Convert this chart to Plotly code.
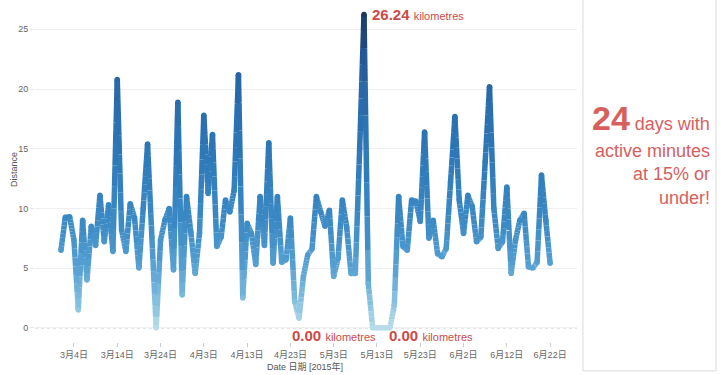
import plotly.graph_objects as go
import plotly.colors as pc
import pandas as pd

# ---------------- data ----------------
start_date = "2015-03-01"
distance_km = [
    # March
    6.5, 9.25, 9.3, 7.35, 1.5, 9.0, 4.0, 8.5, 6.9, 11.1,
    7.2, 10.3, 6.4, 20.8, 8.2, 6.4, 10.4, 9.2, 5.0, 10.0,
    15.4, 7.6, 0.0, 7.35, 9.0, 10.0, 4.85, 18.9, 2.75, 11.0, 8.0,
    # April
    4.55, 7.9, 17.8, 11.25, 16.2, 6.8, 7.6, 10.7, 9.7, 11.5,
    21.2, 2.5, 8.75, 7.9, 5.3, 11.0, 6.9, 15.5, 5.4, 11.0,
    5.5, 5.7, 9.2, 2.2, 0.8, 4.3, 6.1, 6.6, 11.0, 9.7,
    # May
    8.5, 9.85, 4.3, 5.8, 10.7, 8.45, 4.55, 4.55, 15.0, 26.24,
    3.7, 0.0, 0.0, 0.0, 0.0, 0.0, 1.9, 11.0, 6.8, 6.5,
    10.7, 10.6, 8.9, 16.4, 7.5, 9.0, 6.2, 5.95, 6.65, 12.2, 17.7,
    # June
    10.7, 7.9, 11.1, 10.15, 7.2, 7.6, 13.9, 20.2, 10.0, 6.65,
    7.2, 11.8, 4.55, 7.35, 9.0, 9.6, 5.1, 5.0, 5.5, 12.8,
    9.0, 5.4,
]
tick_dates = ["2015-03-04", "2015-03-14", "2015-03-24", "2015-04-03",
              "2015-04-13", "2015-04-23", "2015-05-03", "2015-05-13",
              "2015-05-23", "2015-06-02", "2015-06-12", "2015-06-22"]
tick_labels = ["3月4日", "3月14日", "3月24日", "4月3日", "4月13日", "4月23日",
               "5月3日", "5月13日", "5月23日", "6月2日", "6月12日", "6月22日"]
y_ticks = [0, 5, 10, 15, 20, 25]
max_label = "26.24"
zero_label = "0.00"
unit_label = "kilometres"
side_number = "24"

dates = pd.date_range(start_date, periods=len(distance_km), freq="D")

# ---------------- styling ----------------
FONT = "Liberation Sans, Arial, Noto Sans CJK SC, sans-serif"
RED = "#cc4a48"
SIDE_RED = "#d7605d"
LW = 5.5
colorscale = [
    [0.0, "#b8dbe9"],
    [0.08, "#86c1df"],
    [0.2, "#559fd1"],
    [0.35, "#3a89c4"],
    [0.55, "#2e79b8"],
    [0.8, "#2866a5"],
    [0.9, "#22508a"],
    [1.0, "#1b3763"],
]
vmax = max(distance_km)
n_bins = 40
n_sub = 8

fig = go.Figure()

# gradient line: each segment split into pieces, grouped by colour bin
bins_x = {b: [] for b in range(n_bins)}
bins_y = {b: [] for b in range(n_bins)}
for i in range(len(distance_km) - 1):
    x0, x1 = dates[i], dates[i + 1]
    y0, y1 = distance_km[i], distance_km[i + 1]
    for k in range(n_sub):
        t0, t1 = k / n_sub, (k + 1) / n_sub
        ya, yb = y0 + (y1 - y0) * t0, y0 + (y1 - y0) * t1
        mid = (ya + yb) / 2
        b = min(int(mid / vmax * n_bins), n_bins - 1)
        bins_x[b] += [x0 + (x1 - x0) * t0, x0 + (x1 - x0) * t1, None]
        bins_y[b] += [ya, yb, None]

for b in range(n_bins):
    if not bins_x[b]:
        continue
    col = pc.sample_colorscale(colorscale, [(b + 0.5) / n_bins])[0]
    fig.add_trace(go.Scatter(
        x=bins_x[b], y=bins_y[b], mode="lines",
        line=dict(color=col, width=LW), connectgaps=False,
        hoverinfo="skip", showlegend=False,
    ))

fig.add_trace(go.Scatter(
    x=dates, y=distance_km, mode="markers",
    marker=dict(size=LW, color=distance_km, colorscale=colorscale,
                cmin=0, cmax=vmax, line=dict(width=0)),
    showlegend=False, hovertemplate="%{x|%b %d}: %{y:.2f} km<extra></extra>",
))

# annotations on the line
imax = distance_km.index(vmax)
zero_idx = [i for i, v in enumerate(distance_km) if v == 0.0 and i > 30]
fig.add_annotation(
    x=dates[imax], y=vmax, xanchor="left", yanchor="middle", xshift=6,
    text=f"<b>{max_label}</b> <span style='font-size:11px'>{unit_label}</span>",
    showarrow=False, font=dict(family=FONT, size=15, color=RED),
)
fig.add_annotation(
    x=dates[zero_idx[0]], y=0, xanchor="right", yanchor="middle", xshift=5, yshift=-8,
    text=f"<b>{zero_label}</b> <span style='font-size:11px'>{unit_label}</span>",
    showarrow=False, font=dict(family=FONT, size=15, color=RED),
)
fig.add_annotation(
    x=dates[zero_idx[-1]], y=0, xanchor="left", yanchor="middle", xshift=-3, yshift=-8,
    text=f"<b>{zero_label}</b> <span style='font-size:11px'>{unit_label}</span>",
    showarrow=False, font=dict(family=FONT, size=15, color=RED),
)

# zero reference line (dotted)
fig.add_shape(type="line", xref="paper", yref="y", x0=0, x1=1, y0=0, y1=0,
              line=dict(color="#a0a0a0", width=1, dash="dot"), layer="below")

# right-hand panel
fig.add_shape(type="rect", xref="paper", yref="paper",
              x0=1.011, x1=1.2565, y0=1.01, y1=-0.085,
              line=dict(color="#d9d9d9", width=1), fillcolor="rgba(0,0,0,0)")
fig.add_annotation(
    xref="paper", yref="paper", x=1.249, y=(342 - 118) / 340,
    xanchor="right", yanchor="middle", showarrow=False, align="right",
    text=f"<b><span style='font-size:34px'>{side_number}</span></b> days with",
    font=dict(family=FONT, size=18, color=SIDE_RED),
)
fig.add_annotation(
    xref="paper", yref="paper", x=1.249, y=(342 - 174) / 340,
    xanchor="right", yanchor="middle", showarrow=False, align="right",
    text="active minutes<br>at 15% or<br>under!",
    font=dict(family=FONT, size=18, color=SIDE_RED),
)

# axis titles
fig.add_annotation(
    xref="paper", yref="paper", x=(14 - 35) / 542, y=(342 - 170) / 340,
    text="Distance", textangle=-90, showarrow=False,
    xanchor="center", yanchor="middle",
    font=dict(family=FONT, size=9, color="#555555"),
)
fig.add_annotation(
    xref="paper", yref="paper", x=(305 - 35) / 542, y=(342 - 366) / 340,
    text="Date 日期 [2015年]", showarrow=False,
    xanchor="center", yanchor="middle",
    font=dict(family=FONT, size=9, color="#555555"),
)

fig.update_layout(
    width=725, height=375,
    margin=dict(l=35, r=148, t=2, b=33),
    paper_bgcolor="white", plot_bgcolor="white",
    font=dict(family=FONT, size=9, color="#666666"),
    showlegend=False,
    xaxis=dict(
        type="date", range=["2015-02-23", "2015-06-28 05:00"],
        tickvals=tick_dates, ticktext=tick_labels,
        showgrid=False, zeroline=False, showline=False,
        ticks="outside", ticklen=4, tickcolor="#cccccc",
        tickfont=dict(family=FONT, size=9, color="#666666"),
    ),
    yaxis=dict(
        range=[-1.19, 27.29], tickvals=y_ticks,
        showgrid=True, gridcolor="#efefef", gridwidth=1,
        zeroline=False, showline=False,
        ticks="outside", ticklen=4, tickcolor="#e6e6e6",
        tickfont=dict(family=FONT, size=9, color="#666666"),
    ),
)

fig.write_html(
    "out.html",
    config={"displayModeBar": False},
    post_script="document.body.style.margin='0';document.body.style.overflow='hidden';",
)
